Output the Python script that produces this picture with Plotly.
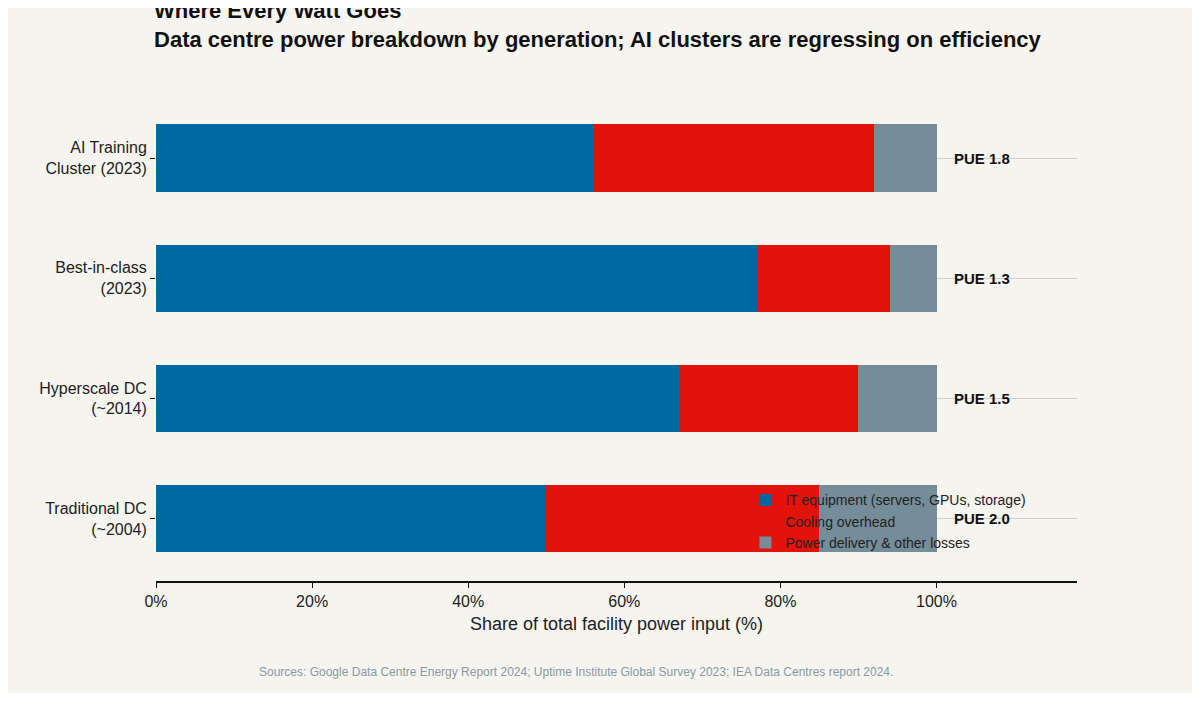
import plotly.graph_objects as go

# === DATA ===
categories = ["Traditional DC<br>(~2004)", "Hyperscale DC<br>(~2014)",
              "Best-in-class<br>(2023)", "AI Training<br>Cluster (2023)"]
it_share = [50, 67, 77, 56]
cooling_share = [35, 23, 17, 36]
other_share = [15, 10, 6, 8]
pue_labels = ["PUE 2.0", "PUE 1.5", "PUE 1.3", "PUE 1.8"]

fig = go.Figure()
fig.add_trace(go.Bar(y=categories, x=it_share, orientation="h", width=0.56,
                     marker_color="#0069a3", marker_line_width=0,
                     name="IT equipment (servers, GPUs, storage)"))
fig.add_trace(go.Bar(y=categories, x=cooling_share, orientation="h", width=0.56,
                     marker_color="#e3120b", marker_line_width=0,
                     name="Cooling overhead"))
fig.add_trace(go.Bar(y=categories, x=other_share, orientation="h", width=0.56,
                     marker_color="#758d99", marker_line_width=0,
                     name="Power delivery & other losses"))

# PUE labels just right of the 100% mark
for cat, lab in zip(categories, pue_labels):
    fig.add_annotation(x=102, y=cat, text=f"<b>{lab}</b>", showarrow=False,
                       xanchor="left", font=dict(size=15, color="#111"))

fig.update_layout(
    barmode="stack",
    paper_bgcolor="#f5f4ef", plot_bgcolor="#f5f4ef",
    font=dict(family="Liberation Sans, Arial, sans-serif", size=16, color="#222"),
    title=dict(text="<b>Where Every Watt Goes</b><br><b>Data centre power breakdown by generation; AI clusters are regressing on efficiency</b>",
               x=148/1200, xanchor="left", y=0.985, yanchor="top",
               font=dict(size=22, color="#111")),
    margin=dict(l=148, r=115, t=90, b=112),
    xaxis=dict(range=[0, 118], tickvals=[0, 20, 40, 60, 80, 100],
               ticktext=["0%", "20%", "40%", "60%", "80%", "100%"],
               showgrid=False, zeroline=False, showline=True, linecolor="#111",
               linewidth=1.5, ticks="outside", ticklen=5, tickcolor="#111",
               title=dict(text="Share of total facility power input (%)", font=dict(size=18),
                          standoff=8)),
    yaxis=dict(showgrid=True, gridcolor="#cfcfcf", gridwidth=0.5, ticks="outside",
               ticklen=5, tickcolor="#111", range=[-0.52, 3.5]),
    legend=dict(x=0.64, y=0.2, xanchor="left", yanchor="top", bgcolor="rgba(0,0,0,0)",
                font=dict(size=14), traceorder="normal"),
)

fig.add_annotation(x=132/1200, y=-0.17, xref="paper", yref="paper", xanchor="left",
                   yanchor="top", showarrow=False,
                   text="Sources: Google Data Centre Energy Report 2024; Uptime Institute Global Survey 2023; IEA Data Centres report 2024.",
                   font=dict(size=12, color="#8a9aa3"))

fig.write_html("out.html")
